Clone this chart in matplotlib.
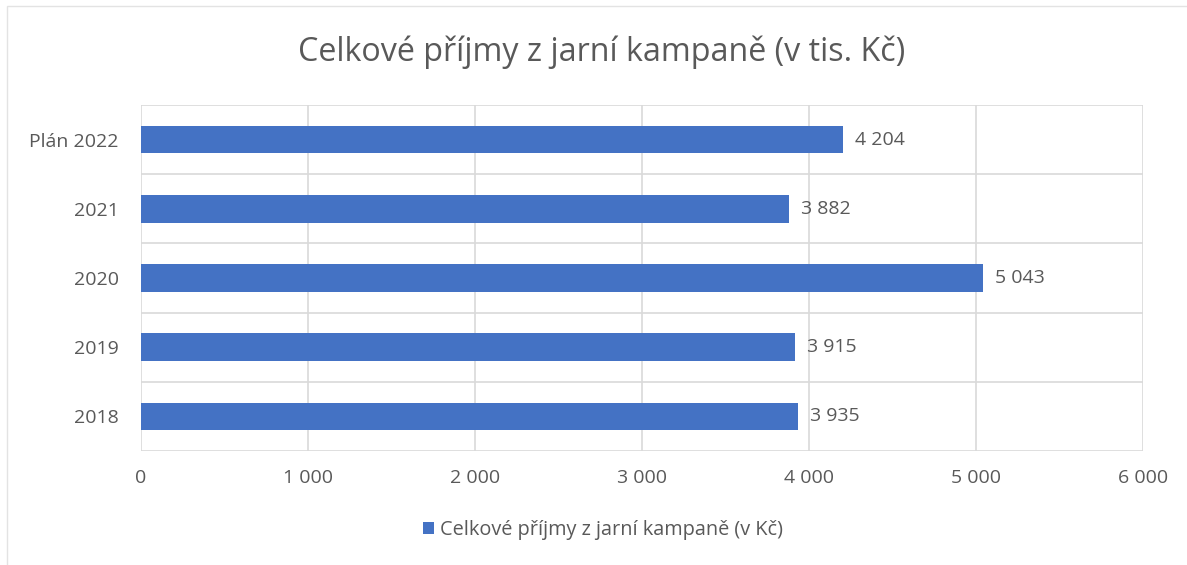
import matplotlib.pyplot as plt
from matplotlib.patches import Rectangle

# Data
categories = ['2018', '2019', '2020', '2021', 'Plán 2022']
values = [3935, 3915, 5043, 3882, 4204]
x_ticks = [0, 1000, 2000, 3000, 4000, 5000, 6000]

title = 'Celkové příjmy z jarní kampaně (v tis. Kč)'
series_name = 'Celkové příjmy z jarní kampaně (v Kč)'

bar_color = '#4472C4'
text_color = '#595959'
grid_color = '#D9D9D9'

plt.rcParams['font.family'] = ['Open Sans', 'DejaVu Sans']


def fmt(v):
    return f'{v:,.0f}'.replace(',', ' ')


fig = plt.figure(figsize=(11.87, 5.65), dpi=100)
ax = fig.add_axes([0.1188, 0.2018, 0.8442, 0.6124])

ypos = list(range(len(categories)))
bars = ax.barh(ypos, values, height=0.4, color=bar_color, label=series_name, zorder=3)

# Data labels
for y, v in zip(ypos, values):
    ax.text(v + 70, y, fmt(v), va='center', ha='left', fontsize=14, color=text_color)

ax.set_xlim(0, 6000)
ax.set_ylim(-0.5, len(categories) - 0.5)
ax.set_xticks(x_ticks)
ax.set_xticklabels([fmt(t) for t in x_ticks])
ax.set_yticks(ypos)
ax.set_yticklabels(categories)

# Gridlines: vertical at ticks, horizontal at category boundaries
for t in x_ticks:
    ax.axvline(t, color=grid_color, lw=1.2, zorder=1)
for b in [i - 0.5 for i in range(len(categories) + 1)]:
    ax.axhline(b, color=grid_color, lw=1.2, zorder=1)

for s in ax.spines.values():
    s.set_visible(False)
ax.tick_params(axis='both', length=0, labelsize=14, labelcolor=text_color)
ax.tick_params(axis='x', pad=13)
ax.tick_params(axis='y', pad=16)

fig.text(0.507, 0.908, title, ha='center', va='center', fontsize=23.2, color=text_color)

fig.legend(handles=[bars], labels=[series_name], loc='center', bbox_to_anchor=(0.508, 0.062),
           frameon=False, fontsize=14.3, labelcolor=text_color, handlelength=0.6,
           handleheight=0.6, handletextpad=0.3)

# light chart border
fig.patches.append(Rectangle((0.006, -0.01), 1.1, 1.0, transform=fig.transFigure,
                             fill=False, edgecolor='#E3E3E3', lw=1))

fig.savefig('out.png', dpi=100)
